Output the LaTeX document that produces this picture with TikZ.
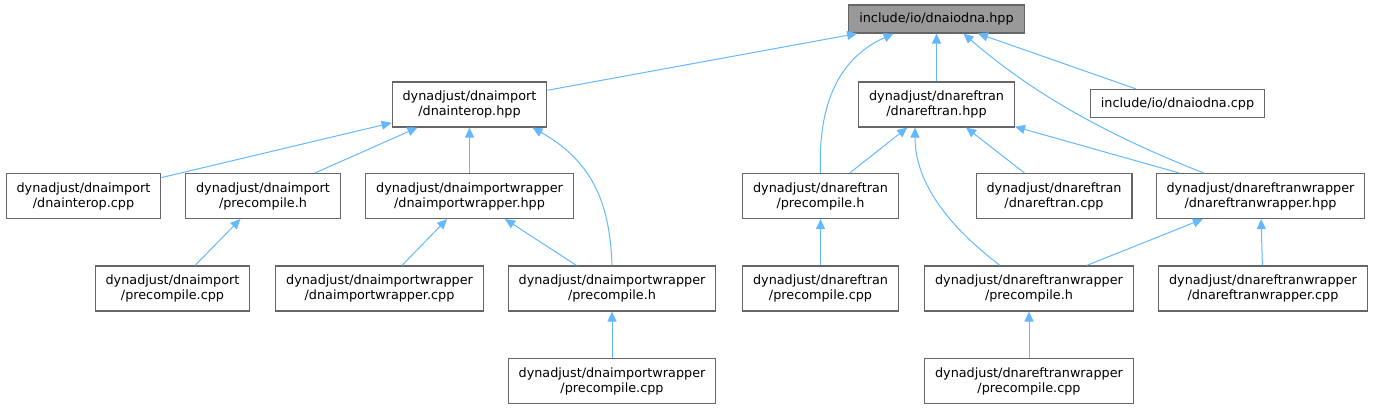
\documentclass[tikz,border=0pt]{standalone}
\usepackage{fontspec}
\setmainfont{DejaVu Sans}
\usepackage{xcolor}
\definecolor{incedge}{HTML}{63B8FF}
\definecolor{incborder}{HTML}{666666}
\definecolor{incroot}{HTML}{999999}
\usepackage{tikz}
\usetikzlibrary{arrows.meta}
\tikzset{
  incbox/.style={draw=incborder,line width=1.1pt,fill=white,inner xsep=10.5pt,align=center,font=\fontsize{12.8}{15}\selectfont,minimum height=45pt},
  incone/.style={incbox,minimum height=28pt},
  incmain/.style={incone,fill=incroot},
  incflow/.style={-{Triangle[length=10pt,width=9pt]},incedge,line width=1pt},
}

\begin{document}
\begin{tikzpicture}[x=1pt,y=-1pt]
\useasboundingbox (0,0) rectangle (1374,409);
% top row
\node[incmain] (root) at (936.5,19) {include/io/dnaiodna.hpp};
\node[incbox] (interop) at (469.5,104.5) {dynadjust/dnaimport\\/dnainterop.hpp};
\node[incbox] (reftran) at (936.5,104.5) {dynadjust/dnareftran\\/dnareftran.hpp};
\node[incone] (iocpp) at (1177.5,103.5) {include/io/dnaiodna.cpp};
% middle row
\node[incbox] (interopcpp) at (83.5,196) {dynadjust/dnaimport\\/dnainterop.cpp};
\node[incbox] (imppre) at (263,196) {dynadjust/dnaimport\\/precompile.h};
\node[incbox] (iwhpp) at (469.5,196) {dynadjust/dnaimportwrapper\\/dnaimportwrapper.hpp};
\node[incbox] (rtpre) at (820.5,196) {dynadjust/dnareftran\\/precompile.h};
\node[incbox] (rtcpp) at (1054,196) {dynadjust/dnareftran\\/dnareftran.cpp};
\node[incbox] (rwhpp) at (1260.5,196) {dynadjust/dnareftranwrapper\\/dnareftranwrapper.hpp};
% lower rows
\node[incbox] (imppcpp) at (172.5,288.5) {dynadjust/dnaimport\\/precompile.cpp};
\node[incbox] (iwcpp) at (379.5,288.5) {dynadjust/dnaimportwrapper\\/dnaimportwrapper.cpp};
\node[incbox] (iwpre) at (612,288.5) {dynadjust/dnaimportwrapper\\/precompile.h};
\node[incbox] (rtpcpp) at (820.5,288.5) {dynadjust/dnareftran\\/precompile.cpp};
\node[incbox] (rwpre) at (1029,288.5) {dynadjust/dnareftranwrapper\\/precompile.h};
\node[incbox] (rwcpp) at (1263,288.5) {dynadjust/dnareftranwrapper\\/dnareftranwrapper.cpp};
\node[incbox] (iwpcpp) at (612,381) {dynadjust/dnaimportwrapper\\/precompile.cpp};
\node[incbox] (rwpcpp) at (1029,381) {dynadjust/dnareftranwrapper\\/precompile.cpp};
% includes
\draw[incflow] (interop) -- (root);
\draw[incflow] (reftran) -- (root);
\draw[incflow] (iocpp) -- (root);
\draw[incflow] (rtpre.north) .. controls (818,110) and (835,60) .. ([xshift=-43pt]root.south);
\draw[incflow] ([xshift=-57pt]rwhpp.north) .. controls (1120,140) and (1040,100) .. ([xshift=27pt]root.south);
\draw[incflow] (interopcpp) -- (interop);
\draw[incflow] (imppre) -- (interop);
\draw[incflow] (iwhpp) -- (interop);
\draw[incflow] (iwpre.north) .. controls (610,200) and (590,160) .. ([xshift=63pt]interop.south);
\draw[incflow] (imppcpp) -- (imppre);
\draw[incflow] (iwcpp) -- (iwhpp);
\draw[incflow] (iwpre) -- (iwhpp);
\draw[incflow] (iwpcpp) -- (iwpre);
\draw[incflow] (rtpre) -- (reftran);
\draw[incflow] (rtcpp) -- (reftran);
\draw[incflow] (rwhpp) -- (reftran);
\draw[incflow] ([xshift=-29pt]rwpre.north) .. controls (960,235) and (915,190) .. ([xshift=-21.5pt]reftran.south);
\draw[incflow] (rtpcpp) -- (rtpre);
\draw[incflow] (rwpre) -- (rwhpp);
\draw[incflow] (rwcpp) -- (rwhpp);
\draw[incflow] (rwpcpp) -- (rwpre);
\end{tikzpicture}
\end{document}
